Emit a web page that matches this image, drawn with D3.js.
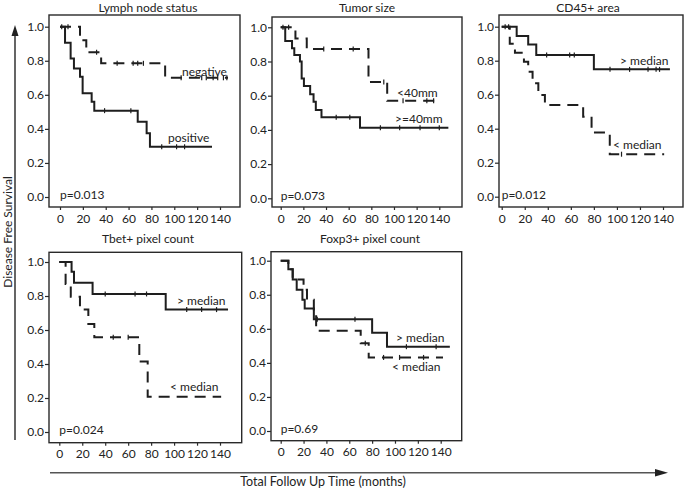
<!DOCTYPE html>
<html><head><meta charset="utf-8">
<script src="https://cdn.jsdelivr.net/npm/d3@7"></script>
<style>
body{margin:0;background:#fff}
text{font-family:Lato,"Open Sans",sans-serif;fill:#222}
</style>
</head><body>
<svg id="c" width="685" height="490"></svg>
<script>
// ---------------- DATA ----------------
const xTicks = [0, 20, 40, 60, 80, 100, 120, 140];
const yTicks = [0, 0.2, 0.4, 0.6, 0.8, 1.0];
const panelTitles = ["Lymph node status", "Tumor size", "CD45+ area", "Tbet+ pixel count", "Foxp3+ pixel count"];
const pValues = ["p=0.013", "p=0.073", "p=0.012", "p=0.024", "p=0.69"];
const yAxisTitle = "Disease Free Survival";
const xAxisTitle = "Total Follow Up Time (months)";

// Kaplan-Meier steps: [time (months), survival after the event]
const lymphPosSteps = [[4.4,0.906],[9.3,0.814],[12.2,0.755],[17.5,0.706],[19.8,0.609],[27.7,0.56],[30,0.507],[68,0.442],[75.8,0.374],[78.7,0.295]];
const lymphPosEnd = 133;
const lymphPosCensor = [39, 62, 89, 102, 109];
const lymphNegSteps = [[17.5,0.92],[23,0.85],[36,0.785],[92,0.70]];
const lymphNegEnd = 147;
const lymphNegCensor = [1.5, 7, 32, 50, 64, 68, 73, 106, 124, 128, 134, 138, 143, 146];

const tumorBigSteps = [[4,0.92],[10,0.877],[12,0.838],[17,0.80],[18.5,0.70],[20.5,0.657],[26,0.608],[29,0.565],[31,0.517],[36,0.474],[70,0.413]];
const tumorBigEnd = 148;
const tumorBigCensor = [49, 61, 88, 105, 123, 140];
const tumorSmallSteps = [[13,0.935],[23,0.873],[77.5,0.68],[94,0.57]];
const tumorSmallEnd = 139;
const tumorSmallCensor = [2, 7, 38, 64, 91, 108, 129, 135];

const cd45HighSteps = [[13,0.945],[23,0.896],[30,0.833],[80,0.749]];
const cd45HighEnd = 146;
const cd45HighCensor = [3, 6, 39, 59, 63, 94, 111, 127, 134, 137];
const cd45LowSteps = [[7,0.90],[11.5,0.847],[19.3,0.794],[23,0.735],[26.8,0.667],[31.8,0.598],[37.5,0.539],[70.7,0.47],[78,0.378],[93.8,0.25]];
const cd45LowEnd = 141;
const cd45LowCensor = [104];

const tbetHighSteps = [[10.7,0.943],[12.8,0.878],[29,0.812],[92.7,0.72]];
const tbetHighEnd = 147;
const tbetHighCensor = [40, 66, 76, 111, 124, 137];
const tbetLowSteps = [[5.5,0.87],[10,0.796],[18,0.72],[25.3,0.635],[30.5,0.557],[69.7,0.414],[77,0.208]];
const tbetLowEnd = 141;
const tbetLowCensor = [47, 60];

const foxHighSteps = [[6.7,0.95],[10.5,0.89],[14,0.83],[19,0.77],[21,0.72],[29,0.656],[80,0.577],[93,0.495]];
const foxHighEnd = 148;
const foxHighCensor = [32, 65, 110, 136];
const foxLowSteps = [[6.7,0.95],[10.5,0.89],[20,0.83],[23,0.77],[29,0.70],[31,0.589],[70,0.515],[77,0.432]];
const foxLowEnd = 142;
const foxLowCensor = [74, 90, 104, 125];

const curveLabels = [["negative","positive"],["<40mm",">=40mm"],["> median","< median"],["> median","< median"],["> median","< median"]];

// ---------------- LAYOUT ----------------
const panels = [
  {L:49, T:15, R:240, B:207, x0:60, x1:220, yTop:26.7, yBot:197, titleX:148, titleY:12,
   curves:[{s:lymphNegSteps,e:lymphNegEnd,c:lymphNegCensor,dash:true},{s:lymphPosSteps,e:lymphPosEnd,c:lymphPosCensor,dash:false}],
   labels:[[182,76],[168,142]]},
  {L:272, T:17, R:462, B:207, x0:280.7, x1:439.3, yTop:27.3, yBot:198.3, titleX:367, titleY:12,
   curves:[{s:tumorSmallSteps,e:tumorSmallEnd,c:tumorSmallCensor,dash:true},{s:tumorBigSteps,e:tumorBigEnd,c:tumorBigCensor,dash:false}],
   labels:[[397,97],[395,123]]},
  {L:499, T:15, R:683, B:207, x0:501.7, x1:663, yTop:26.7, yBot:196.7, titleX:588, titleY:12,
   curves:[{s:cd45HighSteps,e:cd45HighEnd,c:cd45HighCensor,dash:false},{s:cd45LowSteps,e:cd45LowEnd,c:cd45LowCensor,dash:true}],
   labels:[[620,65],[613,149]]},
  {L:49, T:252.3, R:241.7, B:442.7, x0:59.3, x1:220, yTop:262, yBot:432, titleX:148, titleY:243,
   curves:[{s:tbetHighSteps,e:tbetHighEnd,c:tbetHighCensor,dash:false},{s:tbetLowSteps,e:tbetLowEnd,c:tbetLowCensor,dash:true}],
   labels:[[177,305],[170,391]]},
  {L:271, T:251.7, R:461.7, B:440.7, x0:280.7, x1:440.7, yTop:260.7, yBot:431, titleX:370, titleY:243,
   curves:[{s:foxLowSteps,e:foxLowEnd,c:foxLowCensor,dash:true},{s:foxHighSteps,e:foxHighEnd,c:foxHighCensor,dash:false}],
   labels:[[396,341.7],[392,370.5]]}
];

const svg = d3.select("#c");
const ink = "#1e1e1e";

panels.forEach((p, i) => {
  const x = d3.scaleLinear().domain([0, 140]).range([p.x0, p.x1]);
  const y = d3.scaleLinear().domain([0, 1]).range([p.yBot, p.yTop]);
  const g = svg.append("g");

  g.append("rect").attr("x", p.L).attr("y", p.T).attr("width", p.R - p.L).attr("height", p.B - p.T)
    .attr("fill", "none").attr("stroke", "#2a2a2a").attr("stroke-width", 1.4);

  const ya = g.append("g").attr("transform", `translate(${p.L},0)`)
    .call(d3.axisLeft(y).tickValues(yTicks).tickFormat(d3.format(".1f")).tickSize(4).tickPadding(1));
  const xa = g.append("g").attr("transform", `translate(0,${p.B})`)
    .call(d3.axisBottom(x).tickValues(xTicks).tickSize(3).tickPadding(4));
  [ya, xa].forEach(a => {
    a.select(".domain").remove();
    a.selectAll("line").attr("stroke", "#2a2a2a").attr("stroke-width", 1.2);
    a.selectAll("text").attr("font-size", 12).attr("fill", "#222").attr("font-family", "Lato, 'Open Sans', sans-serif");
  });

  g.append("text").attr("x", p.titleX).attr("y", p.titleY).attr("text-anchor", "middle")
    .attr("font-size", 12).text(panelTitles[i]);

  g.append("text").attr("x", x(0)).attr("y", p.yBot + 2).attr("font-size", 12).text(pValues[i]);

  const line = d3.line().x(d => x(d[0])).y(d => y(d[1])).curve(d3.curveStepAfter);
  p.curves.forEach(c => {
    const pts = [[0, 1]].concat(c.s);
    pts.push([c.e, c.s[c.s.length - 1][1]]);
    g.append("path").attr("d", line(pts)).attr("fill", "none").attr("stroke", ink)
      .attr("stroke-width", 2).attr("stroke-dasharray", c.dash ? "11,7" : null);
    const survAt = t => { let s = 1; c.s.forEach(d => { if (d[0] <= t) s = d[1]; }); return s; };
    g.selectAll(null).data(c.c).enter().append("line")
      .attr("x1", d => x(d)).attr("x2", d => x(d))
      .attr("y1", d => y(survAt(d)) - 2.5).attr("y2", d => y(survAt(d)) + 2.5)
      .attr("stroke", ink).attr("stroke-width", 1.2);
  });

  curveLabels[i].forEach((lab, k) => {
    g.append("text").attr("x", p.labels[k][0]).attr("y", p.labels[k][1]).attr("font-size", 12).text(lab);
  });
});

const grey = "#555";
svg.append("line").attr("x1", 15).attr("x2", 15).attr("y1", 440).attr("y2", 32).attr("stroke", grey).attr("stroke-width", 1.8);
svg.append("path").attr("d", "M15,25 L11.5,36 L18.5,36 Z").attr("fill", "#222");
svg.append("line").attr("x1", 50).attr("x2", 658).attr("y1", 472.7).attr("y2", 472.7).attr("stroke", grey).attr("stroke-width", 1.6);
svg.append("path").attr("d", "M668,472.7 L655,469 L655,476.4 Z").attr("fill", "#222");

svg.append("text").attr("transform", "translate(11.5,232) rotate(-90)").attr("text-anchor", "middle")
  .attr("font-size", 12).text(yAxisTitle);
svg.append("text").attr("x", 323).attr("y", 485.5).attr("text-anchor", "middle")
  .attr("font-size", 12.5).text(xAxisTitle);
</script>
</body></html>
